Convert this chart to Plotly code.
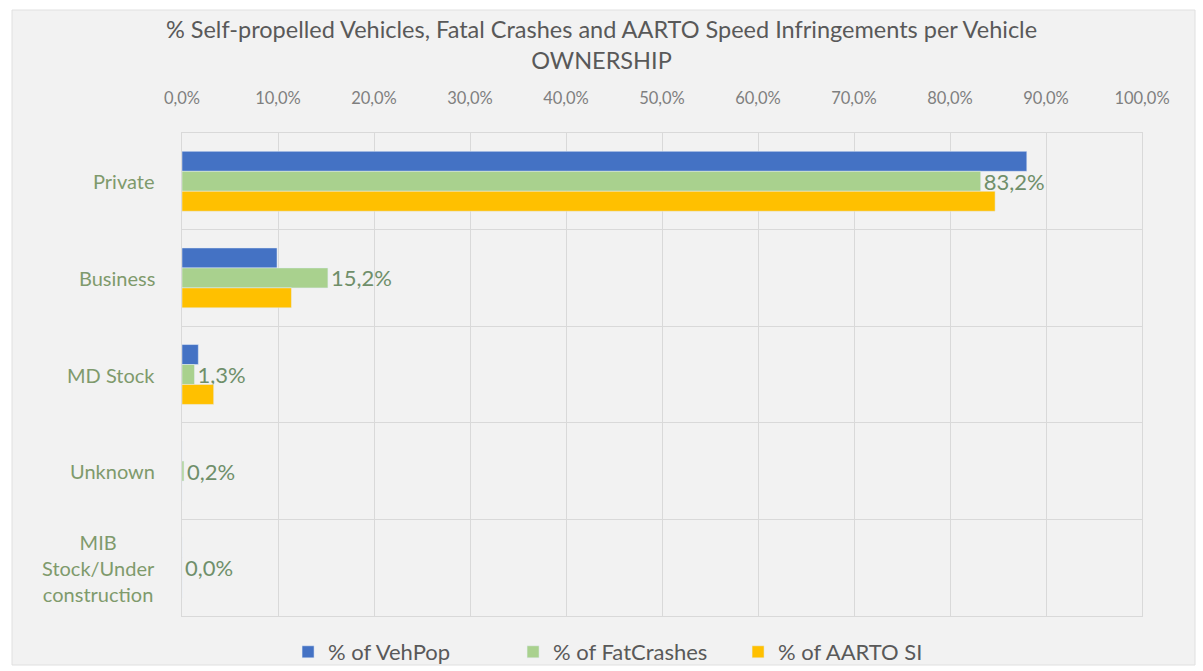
import plotly.graph_objects as go

categories = ["Private", "Business", "MD Stock", "Unknown", "MIB<br>Stock/Under<br>construction"]
veh_pop = [88.0, 9.9, 1.7, 0.0, 0.0]
fat_crashes = [83.2, 15.2, 1.3, 0.2, 0.0]
aarto_si = [84.7, 11.4, 3.3, 0.0, 0.0]
x_ticks = list(range(0, 101, 10))
x_tick_labels = [f"{v:.1f}%".replace(".", ",") for v in x_ticks]

FONT = "Lato, 'Open Sans', sans-serif"
CAT_COLOR = "#7f9a6c"

fig = go.Figure()
fig.add_trace(go.Bar(y=categories, x=veh_pop, orientation="h", name="% of VehPop",
                     marker_color="#4472C4"))
fig.add_trace(go.Bar(y=categories, x=fat_crashes, orientation="h", name="% of FatCrashes",
                     marker_color="#A9D18E",
                     texttemplate="%{x:.1f}%", textposition="outside", constraintext="none",
                     textfont=dict(size=22, color="#6f8f6a", family=FONT),
                     cliponaxis=False))
fig.add_trace(go.Bar(y=categories, x=aarto_si, orientation="h", name="% of AARTO SI",
                     marker_color="#FFC000"))

W, H = 1203, 671
L, R, T, B = 182, 61, 133, 55
pw, ph = W - L - R, H - T - B

# category labels as annotations so multi-line labels are centred like the original
for cat in categories:
    fig.add_annotation(x=-25 / pw, xref="paper", y=cat, yref="y", text=cat,
                       showarrow=False, xanchor="right", yanchor="middle", align="center",
                       font=dict(size=20, color=CAT_COLOR, family=FONT))

fig.update_layout(
    width=W, height=H,
    margin=dict(l=L, r=R, t=T, b=B),
    separators=",.",
    barmode="group", bargap=0.38, bargroupgap=0,
    paper_bgcolor="white", plot_bgcolor="#f2f2f2",
    font=dict(family=FONT, color="#595959"),
    title=dict(text="% Self-propelled Vehicles, Fatal Crashes and AARTO Speed Infringements per Vehicle<br>OWNERSHIP",
               x=0.5, xref="container", xanchor="center",
               y=1 - 38 / H, yref="container", yanchor="middle",
               font=dict(size=23.5, color="#595959", family=FONT)),
    xaxis=dict(side="top", range=[0, 100], tickvals=x_ticks, ticktext=x_tick_labels,
               showgrid=True, gridcolor="#d9d9d9", gridwidth=1,
               showline=True, linecolor="#d9d9d9", mirror=True, zeroline=False,
               tickfont=dict(size=16.5, color="#7f7f7f", family=FONT), ticks="", ticklabelstandoff=21),
    yaxis=dict(autorange="reversed", tickson="boundaries", showgrid=True, gridcolor="#d9d9d9",
               showline=True, linecolor="#d9d9d9", mirror=True, ticks="", showticklabels=False),
    legend=dict(orientation="h", xref="container", x=0.52, xanchor="center",
                yref="container", y=1 - 652 / H, yanchor="middle",
                font=dict(size=22, color="#595959", family=FONT),
                itemwidth=30, entrywidth=180, entrywidthmode="pixels",
                traceorder="normal", bgcolor="rgba(0,0,0,0)"),
    shapes=[dict(type="rect", xref="paper", yref="paper", layer="below",
                 x0=(12 - L) / pw, x1=(1195 - L) / pw,
                 y0=(H - B - 665) / ph, y1=(H - B - 10) / ph,
                 fillcolor="#f2f2f2", line=dict(color="#e0e0e0", width=1))],
)

fig.write_html("out.html")
